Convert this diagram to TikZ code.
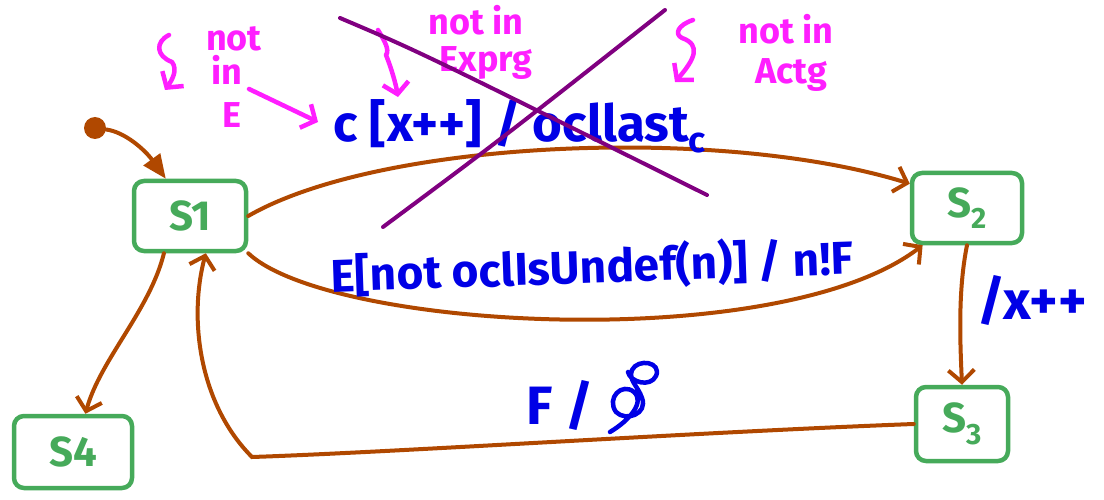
\documentclass[tikz,border=0pt]{standalone}
\usepackage{fontspec}
\setmainfont{Fira Sans}
\usetikzlibrary{arrows.meta}
\definecolor{arrowc}{RGB}{176,72,0}
\definecolor{statec}{RGB}{70,170,90}
\definecolor{bluec}{RGB}{0,0,230}
\definecolor{pinkc}{RGB}{255,30,255}
\definecolor{purplec}{RGB}{128,0,128}
\begin{document}
\begin{tikzpicture}[x=1pt,y=-1pt,
  state/.style={draw=statec,line width=4.5pt,rounded corners=10pt,text=statec,
    font=\fontsize{42}{46}\selectfont\bfseries,inner sep=0pt},
  trans/.style={draw=arrowc,line width=4pt,line cap=round,
    -{Straight Barb[length=12pt,width=26pt]}},
  lbl/.style={text=bluec,font=\fontsize{46}{50}\selectfont\bfseries,inner sep=0pt},
  note/.style={text=pinkc,font=\fontsize{36}{40}\selectfont\bfseries,inner sep=0pt,align=center},
  notearrow/.style={draw=pinkc,line width=4.5pt,line cap=round,line join=round,
    -{Straight Barb[length=11pt,width=26pt]}},
  cross/.style={draw=purplec,line width=4pt,line cap=round},
  scrib/.style={draw=bluec,line width=4.5pt,line cap=round,line join=round}]
\useasboundingbox (0,0) rectangle (1104,500);
% states
\node[state,minimum width=112pt,minimum height=70pt] (s1) at (190,216) {S1};
\node[state,minimum width=110pt,minimum height=70pt] (s2) at (967,208) {S\textsubscript{2}};
\node[state,minimum width=92pt,minimum height=74pt] (s3) at (962,424) {S\textsubscript{3}};
\node[state,minimum width=118pt,minimum height=72pt] (s4) at (73,452) {S4};
% initial
\node[circle,fill=arrowc,minimum size=22pt,inner sep=0pt] (init) at (95,128) {};
\draw[draw=arrowc,line width=4pt,line cap=round,-{Triangle[length=24pt,width=20pt]}]
  (init) .. controls (125,132) and (145,150) .. (s1.123);
% transitions
\draw[trans] (s1.east) .. controls (380,140) and (720,125) .. (s2.157);
\draw[trans] (s1.south east) .. controls (330,330) and (780,355) .. (s2.-140);
\draw[trans] (s2.south) .. controls (958,290) and (960,340) .. (s3.north);
\draw[trans] (s3.west) .. controls (700,432) and (400,452) .. (252,457)
  .. controls (200,405) and (188,320) .. (s1.-67);
\draw[trans] (s1.-125) .. controls (150,310) and (100,360) .. (s4.72);
% labels
\node[lbl,font=\fontsize{51}{54}\selectfont\bfseries] (ltop) at (520,126) {c [x++] / ocllast\textsubscript{c}};
\node[lbl,rotate=2] (lbot) at (592,267) {E[not oclIsUndef(n)] / n!F};
\node[lbl,font=\fontsize{54}{58}\selectfont\bfseries] (lx) at (1032,300) {/x++};
\node[lbl,font=\fontsize{54}{58}\selectfont\bfseries] (lf) at (560,405) {F /};
\draw[scrib] (610,432) .. controls (630,420) and (645,402) .. (634,392)
  .. controls (622,382) and (606,398) .. (616,412)
  .. controls (626,422) and (648,414) .. (642,398)
  .. controls (638,386) and (628,380) .. (632,370)
  .. controls (638,358) and (662,362) .. (656,376)
  .. controls (650,388) and (630,382) .. (628,372);
% notes
\node[note] (n1a) at (234,39) {not};
\node[note] (n1b) at (227,70) {in};
\node[note] (n1c) at (232,115) {E};
\coordinate (n1s) at (249,89);
\draw[notearrow] (169,35) .. controls (155,42) and (156,56) .. (172,62)
  .. controls (178,70) and (172,80) .. (165,90);
\draw[notearrow] (n1s) -- (318,122);
\node[note] (n2a) at (476,20) {not in};
\node[note] (n2b) at (486,63) {Exprg};
\draw[notearrow] (378,30) .. controls (384,40) and (390,50) .. (386,55)
  .. controls (392,70) and (396,85) .. (398,97);
\node[note] (n3a) at (786,29) {not in};
\node[note] (n3b) at (791,75) {Actg};
\draw[notearrow] (693,20) .. controls (678,25) and (674,34) .. (682,38)
  .. controls (702,45) and (694,60) .. (675,82);
% crossing out
\draw[cross] (340,18) .. controls (420,52) .. (707,195);
\draw[cross] (383,227) .. controls (500,140) .. (665,10);
\end{tikzpicture}
\end{document}
